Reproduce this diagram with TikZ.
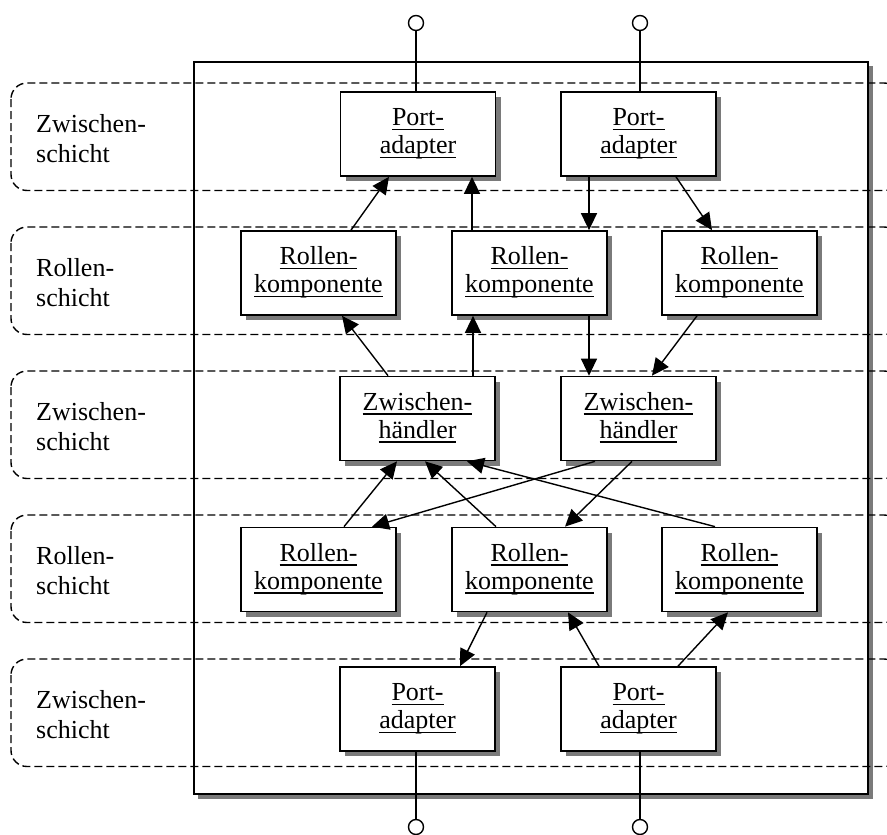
\documentclass[tikz,border=0pt]{standalone}
\usepackage{fontspec}
\setmainfont{Liberation Serif}
\usetikzlibrary{arrows.meta,shadows}
\definecolor{shadowgray}{HTML}{7A7A7A}
% underlined word with a heavier rule
\newcommand\ulw[1]{\setbox0\hbox{#1}\leavevmode\rlap{\rule[-4.7pt]{\wd0}{1.8pt}}\box0}
\newcommand\twolines[2]{\strut\ulw{#1}\\\strut\ulw{#2}}
\begin{document}
\begin{tikzpicture}[x=1pt,y=-1pt,
  box/.style={draw, line width=1.7pt, fill=white, minimum width=155pt, minimum height=84pt,
    inner sep=0pt, align=center, font=\fontsize{26}{28}\selectfont,
    drop shadow={shadow xshift=5pt, shadow yshift=-5pt, fill=shadowgray, opacity=1}},
  band/.style={draw, line width=1.4pt, dash pattern=on 8pt off 4pt, rounded corners=16pt},
  lbl/.style={anchor=west, align=left, inner sep=0pt, font=\fontsize{26}{30}\selectfont},
  conn/.style={line width=1.4pt, -{Triangle[length=17pt,width=16pt]}},
  port/.style={circle, draw, line width=1.4pt, fill=white, minimum size=15pt, inner sep=0pt},
  portline/.style={line width=1.5pt}]
\useasboundingbox (0,0) rectangle (887,835);
\clip (0,0) rectangle (887,835);

% component frame with its shadow
\fill[shadowgray] (198,66) rectangle (873,799);
\fill[white] (194,62) rectangle (868,794);

% layer bands
\foreach \t in {83,227,371,515,659}
  \draw[band] (11,\t) rectangle (900,\t+107.5);

\draw[line width=1.7pt] (194,62) rectangle (868,794);

% layer names
\node[lbl] (L1) at (36,141.75) {\strut Zwischen-\\schicht\strut};
\node[lbl] (L2) at (36,285.75) {\strut Rollen-\\schicht\strut};
\node[lbl] (L3) at (36,429.75) {\strut Zwischen-\\schicht\strut};
\node[lbl] (L4) at (36,573.75) {\strut Rollen-\\schicht\strut};
\node[lbl] (L5) at (36,717.75) {\strut Zwischen-\\schicht\strut};

% external ports
\node[port] (t1) at (416,23) {};
\node[port] (t2) at (640,23) {};
\node[port] (b1) at (416,827) {};
\node[port] (b2) at (640,827) {};

% components
\node[box] (PA1) at (418,134) {\twolines{Port-}{adapter}};
\node[box] (PA2) at (638.5,134) {\twolines{Port-}{adapter}};
\node[box] (R1) at (318.5,273) {\twolines{Rollen-}{komponente}};
\node[box] (R2) at (529.5,273) {\twolines{Rollen-}{komponente}};
\node[box] (R3) at (739.5,273) {\twolines{Rollen-}{komponente}};
\node[box] (Z1) at (417.5,418.5) {\twolines{Zwischen-}{händler}};
\node[box] (Z2) at (638.5,418.5) {\twolines{Zwischen-}{händler}};
\node[box] (R4) at (318.5,569.5) {\twolines{Rollen-}{komponente}};
\node[box] (R5) at (529.5,569.5) {\twolines{Rollen-}{komponente}};
\node[box] (R6) at (739.5,569.5) {\twolines{Rollen-}{komponente}};
\node[box] (PB1) at (417.5,709) {\twolines{Port-}{adapter}};
\node[box] (PB2) at (638.5,709) {\twolines{Port-}{adapter}};

% port connections
\draw[portline] (t1.south) -- (t1.south |- PA1.north);
\draw[portline] (t2.south) -- (t2.south |- PA2.north);
\draw[portline] (b1.north) -- (b1.north |- PB1.south);
\draw[portline] (b2.north) -- (b2.north |- PB2.south);

% message flow
\draw[conn] ([xshift=32.5pt]R1.north) -- ([xshift=-29pt]PA1.south);
\draw[conn] ([xshift=-57.5pt]R2.north) -- ([xshift=54pt]PA1.south);
\draw[conn] ([xshift=-49.5pt]PA2.south) -- ([xshift=59.5pt]R2.north);
\draw[conn] ([xshift=37.5pt]PA2.south) -- ([xshift=-27.5pt]R3.north);

\draw[conn] ([xshift=-29.5pt]Z1.north) -- ([xshift=23.5pt]R1.south);
\draw[conn] ([xshift=55.5pt]Z1.north) -- ([xshift=-56.5pt]R2.south);
\draw[conn] ([xshift=59.5pt]R2.south) -- ([xshift=-49.5pt]Z2.north);
\draw[conn] ([xshift=-42.5pt]R3.south) -- ([xshift=13.5pt]Z2.north);

\draw[conn] ([xshift=25.5pt]R4.north) -- ([xshift=-20.5pt]Z1.south);
\draw[conn] ([xshift=-33.5pt]R5.north) -- ([xshift=7.5pt]Z1.south);
\draw[conn] ([xshift=-24.5pt]R6.north) -- ([xshift=49.5pt]Z1.south);
\draw[conn] ([xshift=-43.5pt]Z2.south) -- ([xshift=53.5pt]R4.north);
\draw[conn] ([xshift=-6.5pt]Z2.south) -- ([xshift=35.5pt]R5.north);

\draw[conn] ([xshift=-42.5pt]R5.south) -- ([xshift=42.5pt]PB1.north);
\draw[conn] ([xshift=-39.5pt]PB2.north) -- ([xshift=38.5pt]R5.south);
\draw[conn] ([xshift=39.5pt]PB2.north) -- ([xshift=-11.5pt]R6.south);
\end{tikzpicture}
\end{document}
